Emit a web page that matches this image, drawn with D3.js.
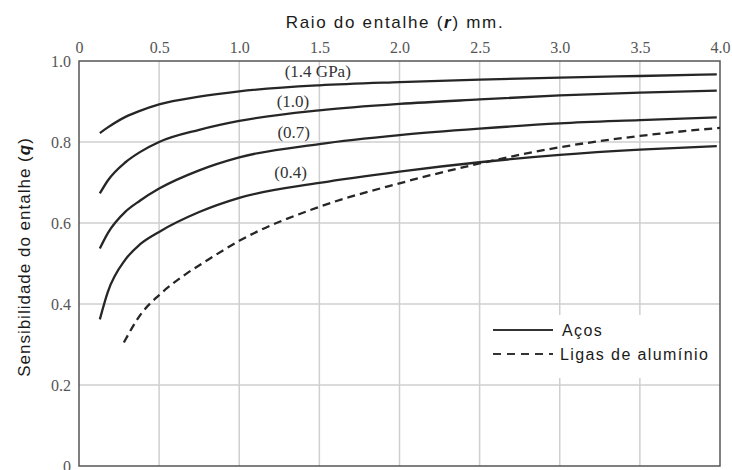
<!DOCTYPE html>
<html>
<head>
<meta charset="utf-8">
<script src="https://cdn.jsdelivr.net/npm/d3@7"></script>
<style>
  body { margin: 0; background: #fff; }
  .sans { font-family: "Liberation Sans", Arial, sans-serif; fill: #1a1a1a; }
  .serif { font-family: "Liberation Serif", "Times New Roman", serif; }
</style>
</head>
<body>
<div id="chart"></div>
<script>
// notch radius r (mm) and notch sensitivity q
const steelR = [0.13, 0.18, 0.29, 0.38, 0.5, 0.75, 1.0, 1.5, 2.0, 2.5, 3.0, 3.5, 3.98];
const steel14 = [0.822, 0.836, 0.862, 0.877, 0.893, 0.912, 0.925, 0.940, 0.948, 0.954, 0.959, 0.963, 0.967];
const steel10 = [0.673, 0.705, 0.750, 0.775, 0.800, 0.830, 0.852, 0.878, 0.894, 0.905, 0.915, 0.922, 0.927];
const steel07 = [0.537, 0.575, 0.628, 0.655, 0.685, 0.730, 0.762, 0.795, 0.817, 0.833, 0.846, 0.854, 0.861];
const steel04 = [0.362, 0.430, 0.510, 0.547, 0.578, 0.627, 0.662, 0.699, 0.727, 0.750, 0.768, 0.781, 0.790];

const aluR = [0.28, 0.39, 0.5, 0.66, 0.8, 1.0, 1.5, 2.0, 2.5, 3.0, 3.5, 4.0];
const aluQ = [0.305, 0.377, 0.422, 0.472, 0.508, 0.556, 0.640, 0.698, 0.747, 0.787, 0.815, 0.835];

const curveLabels = ['(1.4 GPa)', '(1.0)', '(0.7)', '(0.4)'];
const labelR = [1.49, 1.335, 1.34, 1.32];
const labelQ = [0.960, 0.886, 0.810, 0.711];

const xTicks = [0, 0.5, 1.0, 1.5, 2.0, 2.5, 3.0, 3.5, 4.0];
const xTickLabels = ['0', '0.5', '1.0', '1.5', '2.0', '2.5', '3.0', '3.5', '4.0'];
const yTicks = [0, 0.2, 0.4, 0.6, 0.8, 1.0];
const yTickLabels = ['0', '0.2', '0.4', '0.6', '0.8', '1.0'];

const width = 732;
const height = 470;
const margin = { top: 61, right: 12, bottom: 4, left: 79 };

const svg = d3.select('#chart').append('svg')
  .attr('width', width)
  .attr('height', height);

const x = d3.scaleLinear().domain([0, 4]).range([margin.left, width - margin.right]);
const y = d3.scaleLinear().domain([0, 1]).range([height - margin.bottom, margin.top]);

// grid
svg.append('g')
  .selectAll('line')
  .data(xTicks.slice(1, -1))
  .enter().append('line')
  .attr('x1', d => x(d)).attr('x2', d => x(d))
  .attr('y1', y(0)).attr('y2', y(1))
  .attr('stroke', '#cfcfcf').attr('stroke-width', 1.5);

svg.append('g')
  .selectAll('line')
  .data(yTicks.slice(1, -1))
  .enter().append('line')
  .attr('x1', x(0)).attr('x2', x(4))
  .attr('y1', d => y(d)).attr('y2', d => y(d))
  .attr('stroke', '#cfcfcf').attr('stroke-width', 1.5);

// tick labels (top axis and left axis)
const xAxis = d3.axisTop(x).tickValues(xTicks).tickSize(0).tickPadding(8)
  .tickFormat((d, i) => xTickLabels[i]);
svg.append('g')
  .attr('transform', `translate(0,${y(1)})`)
  .call(xAxis)
  .call(g => g.select('.domain').remove())
  .selectAll('text')
  .attr('class', 'serif')
  .style('font-size', '16px')
  .attr('fill', '#555');

const yAxis = d3.axisLeft(y).tickValues(yTicks).tickSize(0).tickPadding(8)
  .tickFormat((d, i) => yTickLabels[i]);
svg.append('g')
  .attr('transform', `translate(${x(0)},0)`)
  .call(yAxis)
  .call(g => g.select('.domain').remove())
  .selectAll('text')
  .attr('class', 'serif')
  .style('font-size', '16px')
  .attr('fill', '#555');

// frame
svg.append('rect')
  .attr('x', x(0)).attr('y', y(1))
  .attr('width', x(4) - x(0)).attr('height', y(0) - y(1))
  .attr('fill', 'none')
  .attr('stroke', '#555')
  .attr('stroke-width', 1.5);

// legend background hides the grid behind it
svg.append('rect')
  .attr('x', 484).attr('y', 315)
  .attr('width', 234).attr('height', 63)
  .attr('fill', '#fff');

const line = d3.line()
  .x(d => x(d[0]))
  .y(d => y(d[1]))
  .curve(d3.curveMonotoneX);

const steelSeries = [steel14, steel10, steel07, steel04];

svg.append('g')
  .selectAll('path')
  .data(steelSeries)
  .enter().append('path')
  .attr('d', q => line(steelR.map((r, i) => [r, q[i]])))
  .attr('fill', 'none')
  .attr('stroke', '#262626')
  .attr('stroke-width', 2.3);

svg.append('path')
  .attr('d', line(aluR.map((r, i) => [r, aluQ[i]])))
  .attr('fill', 'none')
  .attr('stroke', '#262626')
  .attr('stroke-width', 2.3)
  .attr('stroke-dasharray', '8,5');

// curve labels
svg.append('g')
  .selectAll('text')
  .data(curveLabels)
  .enter().append('text')
  .attr('class', 'serif')
  .attr('x', (d, i) => x(labelR[i]))
  .attr('y', (d, i) => y(labelQ[i]))
  .attr('text-anchor', 'middle')
  .attr('fill', '#333')
  .style('font-size', '17px')
  .text(d => d);

// legend
const legend = svg.append('g');
legend.append('line')
  .attr('x1', 493).attr('x2', 553).attr('y1', 330).attr('y2', 330)
  .attr('stroke', '#333').attr('stroke-width', 1.8);
legend.append('line')
  .attr('x1', 493).attr('x2', 553).attr('y1', 354).attr('y2', 354)
  .attr('stroke', '#333').attr('stroke-width', 1.8)
  .attr('stroke-dasharray', '8,6');
legend.append('text')
  .attr('class', 'sans')
  .attr('x', 562).attr('y', 336)
  .style('font-size', '16px')
  .style('letter-spacing', '1.4px')
  .text('Aços');
legend.append('text')
  .attr('class', 'sans')
  .attr('x', 560).attr('y', 360)
  .style('font-size', '16px')
  .style('letter-spacing', '1.4px')
  .text('Ligas de alumínio');

// axis titles
const xTitle = svg.append('text')
  .attr('class', 'sans')
  .attr('x', 395).attr('y', 28)
  .attr('text-anchor', 'middle')
  .style('font-size', '17px')
  .style('letter-spacing', '1.7px');
xTitle.append('tspan').text('Raio do entalhe (');
xTitle.append('tspan').attr('font-weight', 'bold').attr('font-style', 'italic').text('r');
xTitle.append('tspan').text(') mm.');

const yTitle = svg.append('text')
  .attr('class', 'sans')
  .attr('transform', 'translate(30,257) rotate(-90)')
  .attr('text-anchor', 'middle')
  .style('font-size', '17px')
  .style('letter-spacing', '1.0px');
yTitle.append('tspan').text('Sensibilidade do entalhe (');
yTitle.append('tspan').attr('font-weight', 'bold').attr('font-style', 'italic').text('q');
yTitle.append('tspan').text(')');
</script>
</body>
</html>
